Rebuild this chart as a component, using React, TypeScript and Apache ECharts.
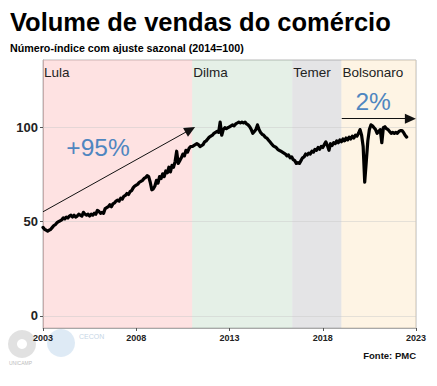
import React, { useEffect, useRef } from "react";
import * as echarts from "echarts";

const startYear = 2003;
// Índice mensal com ajuste sazonal (2014=100), jan/2003 – jul/2022
const monthlyIndex: number[] = [
  // 2003
  47, 46, 45.5, 45, 45.5, 46, 47, 48, 48.5, 49.5, 50, 50.5,
  // 2004
  51, 52, 51.5, 52.5, 52, 53, 53.5, 52.5, 53.5, 52.5, 53, 54,
  // 2005
  53.5, 53, 55, 54, 53.5, 54, 53, 54, 53.5, 54.5, 54, 56,
  // 2006
  55.5, 54.5, 55, 54.5, 57, 57.5, 58, 59, 58, 59.5, 60, 61,
  // 2007
  61.5, 61, 62.5, 62, 63.5, 64, 65, 64.5, 66, 66.5, 68, 69,
  // 2008
  69.5, 70, 71, 71.5, 72, 73, 73.5, 74.5, 74, 71, 67, 67.5,
  // 2009
  69, 72, 70.5, 74, 73, 75.5, 74, 77, 76, 79, 76.5, 80,
  // 2010
  79, 82, 87.5, 81, 82.5, 84, 86, 85, 88, 87, 89, 90,
  // 2011
  90, 90.5, 91, 91.5, 91, 90, 90.5, 91, 92.5, 93, 94, 95,
  // 2012
  95.5, 96, 97, 97.5, 98, 97.5, 103, 96, 99, 100, 99.5, 100,
  // 2013
  100.5, 101, 101.5, 101, 102, 102.5, 103, 102.5, 103, 102.5, 103, 102,
  // 2014
  101.5, 100.5, 99, 97, 98, 99, 101.5, 99, 97.5, 96.5, 96, 95,
  // 2015
  94.5, 93.5, 92.5, 91.5, 90.5, 90, 89.5, 88.5, 88, 87.5, 87, 86.5,
  // 2016
  86, 85, 85.5, 84, 84.5, 83, 82.5, 81, 81.5, 81, 82.5, 84,
  // 2017
  84.5, 86, 85.5, 86.5, 86, 87.5, 87, 88.5, 88, 89.5, 88.5, 90,
  // 2018
  89.5, 91, 92.5, 90.5, 88, 91.5, 90.5, 92, 91.5, 93, 92, 93.5,
  // 2019
  92.5, 94, 93, 94.5, 93.5, 95, 94, 95.5, 94.5, 96, 95.5, 97,
  // 2020
  99, 96, 90, 71, 82, 93, 99, 101.5, 101, 100, 99, 97,
  // 2021
  98, 99, 92, 100, 100.5, 99.5, 99, 98, 97, 97.5, 97, 97.5,
  // 2022
  97, 98, 98.5, 98.5, 97.5, 96, 95,
];

const periodNames = ["Lula", "Dilma", "Temer", "Bolsonaro"];
const periodStart = [2003, 2011, 2016.37, 2019];
const periodEnd = [2011, 2016.37, 2019, 2023];

const yTicks = [0, 50, 100];
const xTicks = [2003, 2008, 2013, 2018, 2023];

const growthLabels = ["+95%", "2%"];
const growthLabelAt = [
  [2005.95, 89.4],
  [2020.7, 113.8],
];
const arrowFrom = [
  [2003, 55.3],
  [2019.02, 104.8],
];
const arrowTo = [
  [2010.9, 99],
  [2022.7, 104.8],
];

const periodColors = [
  "rgba(252,175,175,0.37)",
  "rgba(160,200,165,0.27)",
  "rgba(170,170,178,0.32)",
  "rgba(253,220,165,0.3)",
];

const FONT = "'Liberation Sans', Arial, Helvetica, sans-serif";

export default function App() {
  const ref = useRef<HTMLDivElement>(null);

  useEffect(() => {
    if (!ref.current) return;
    const chart = echarts.init(ref.current, null, { renderer: "svg" });

    const lineData = monthlyIndex.map((v, i) => [startYear + i / 12, v]);

    const option: any = {
      animation: false,
      backgroundColor: "#ffffff",
      grid: {
        left: 43,
        right: 21,
        top: 60,
        bottom: 58,
        show: true,
        borderColor: "#b8b8b8",
        borderWidth: 1,
        backgroundColor: "transparent",
      },
      xAxis: {
        type: "value",
        min: 2003,
        max: 2023,
        splitLine: { show: false },
        axisLine: { show: true, onZero: false, lineStyle: { color: "#a8a8a8", width: 1 } },
        axisTick: {
          show: true,
          length: 3,
          customValues: xTicks,
          lineStyle: { color: "#555" },
        },
        axisLabel: {
          customValues: xTicks,
          formatter: (v: number) => String(v),
          fontFamily: FONT,
          fontWeight: "bold",
          fontSize: 9,
          color: "#222",
          margin: 5,
        },
      },
      yAxis: {
        type: "value",
        min: -6.5,
        max: 136,
        splitLine: { show: false },
        axisLine: { show: true, onZero: false, lineStyle: { color: "#a8a8a8", width: 1 } },
        axisTick: {
          show: true,
          length: 3,
          customValues: yTicks,
          lineStyle: { color: "#555" },
        },
        axisLabel: {
          customValues: yTicks,
          formatter: (v: number) => String(v),
          fontFamily: FONT,
          fontWeight: "bold",
          fontSize: 13,
          color: "#222",
          margin: 5,
        },
      },
      series: [
        {
          type: "line",
          name: "background",
          data: [],
          silent: true,
          z: 1,
          markArea: {
            silent: true,
            data: periodNames.map((n, i) => [
              {
                name: n,
                xAxis: periodStart[i],
                itemStyle: { color: periodColors[i] },
                label: {
                  show: true,
                  position: "insideTopLeft",
                  distance: 0,
                  offset: [1, 5],
                  fontFamily: FONT,
                  fontSize: 13.5,
                  color: "#222",
                },
              },
              { xAxis: periodEnd[i] },
            ]),
          },
          markLine: {
            silent: true,
            symbol: ["none", "none"],
            label: { show: false },
            lineStyle: { color: "rgba(200,200,200,0.45)", width: 1, type: "solid" },
            data: yTicks.map((t) => ({ yAxis: t })),
          },
        },
        {
          type: "line",
          name: "Volume",
          data: lineData,
          showSymbol: false,
          symbol: "none",
          z: 5,
          lineStyle: { color: "#000", width: 3.2, join: "round", cap: "round" },
          markLine: {
            silent: true,
            symbol: ["none", "triangle"],
            symbolSize: [10, 11],
            label: { show: false },
            lineStyle: { color: "#111", width: 1, type: "solid" },
            data: arrowFrom.map((f, i) => [{ coord: f }, { coord: arrowTo[i] }]),
          },
          markPoint: {
            silent: true,
            symbol: "circle",
            symbolSize: 0,
            data: growthLabels.map((t, i) => ({
              coord: growthLabelAt[i],
              value: t,
              label: {
                show: true,
                position: "inside",
                formatter: t,
                fontFamily: FONT,
                fontSize: 24.5,
                color: "#4f86c0",
              },
            })),
          },
        },
      ],
      graphic: [
        {
          type: "text",
          left: 10,
          top: 9,
          style: {
            text: "Volume de vendas do comércio",
            font: `bold 25.5px ${FONT}`,
            fill: "#000",
          },
        },
        {
          type: "text",
          left: 10,
          top: 42,
          style: {
            text: "Número-índice com ajuste sazonal (2014=100)",
            font: `bold 10.7px ${FONT}`,
            fill: "#000",
          },
        },
        {
          type: "text",
          right: 21,
          top: 350,
          style: {
            text: "Fonte: PMC",
            font: `bold 9.5px ${FONT}`,
            fill: "#111",
          },
        },
        {
          type: "circle",
          shape: { cx: 22, cy: 344, r: 14 },
          style: { fill: "rgba(170,170,170,0.35)" },
          silent: true,
        },
        {
          type: "circle",
          shape: { cx: 22, cy: 344, r: 5 },
          style: { fill: "#ffffff" },
          silent: true,
        },
        {
          type: "text",
          left: 9,
          top: 360,
          style: { text: "UNICAMP", font: `5px ${FONT}`, fill: "#bbb" },
          silent: true,
        },
        {
          type: "circle",
          shape: { cx: 61, cy: 343, r: 14 },
          style: { fill: "rgba(160,195,225,0.35)" },
          silent: true,
        },
        {
          type: "text",
          left: 79,
          top: 333,
          style: { text: "CECON", font: `7px ${FONT}`, fill: "#c6d6e6" },
          silent: true,
        },
      ],
    };

    chart.setOption(option);
    return () => chart.dispose();
  }, []);

  return (
    <div
      ref={ref}
      style={{ position: "fixed", left: 0, top: 0, width: 437, height: 386 }}
    />
  );
}
